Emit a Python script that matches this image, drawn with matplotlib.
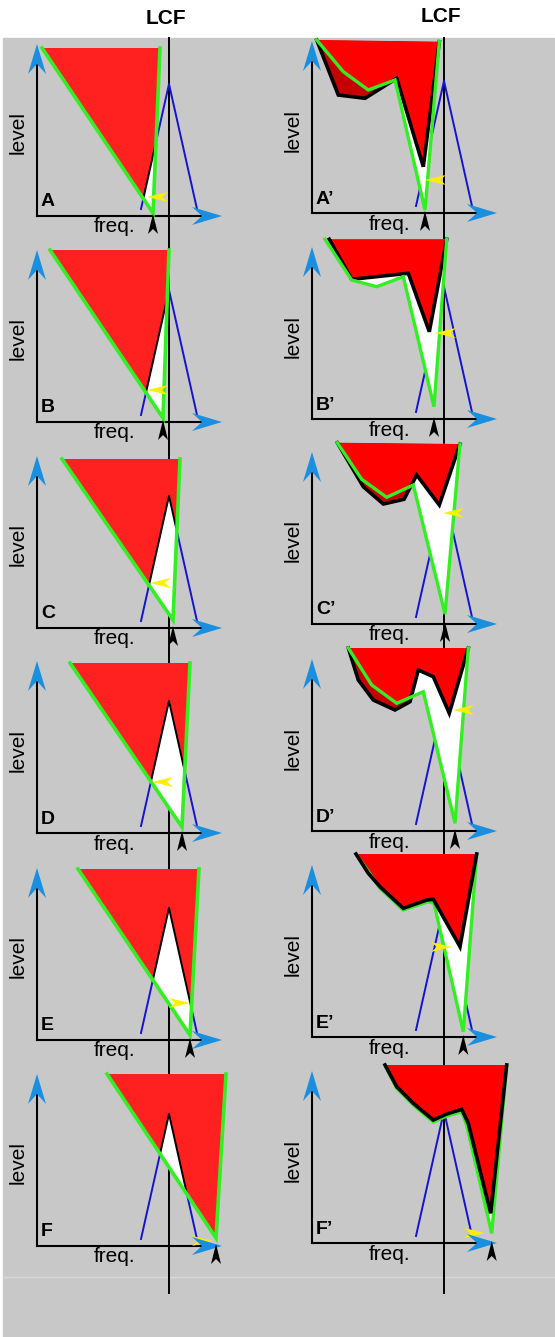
import matplotlib.pyplot as plt
from matplotlib.patches import Polygon, Rectangle

plt.rcParams['font.family'] = ['Liberation Sans', 'DejaVu Sans']

# probe excitation pattern (freq, level), identical in every panel
peak = [(104, 7), (132, 132), (160, 7)]
lcf = 132

# left column: triangular masker (top-left, top-right, lower tip)
left_labels = ['A', 'B', 'C', 'D', 'E', 'F']
masker_A = [(5, 168), (123, 168), (116, 3)]
masker_B = [(13, 172), (132, 172), (126, 4)]
masker_C = [(25, 169), (143, 169), (136, 8)]
masker_D = [(33, 170), (153, 170), (145, 6)]
masker_E = [(41, 171), (162, 171), (153, 5)]
masker_F = [(70, 172), (189, 172), (179, 8)]
left_maskers = [masker_A, masker_B, masker_C, masker_D, masker_E, masker_F]
# yellow pointer: freq, level, direction (-1 left, +1 right)
left_yellow = [(110, 19, -1), (110, 32, -1), (113, 45, -1),
               (115, 51, -1), (153, 37, 1), (176, 5, 1)]

# right column: masker edge (black) and green contour
right_labels = ['A\u2019', 'B\u2019', 'C\u2019', 'D\u2019', 'E\u2019', 'F\u2019']
black_A2 = [(4.7, 173), (26.3, 118), (53, 114.7), (84.7, 134.7), (111.3, 46.3), (127.3, 171.3)]
green_A2 = [(4.7, 173), (31.3, 141.3), (56.3, 123), (83, 133), (113, 3), (127.3, 171.3)]
black_B2 = [(17.3, 179.7), (39.7, 139.7), (96.3, 145.7), (117.3, 87.3), (134.7, 179.7)]
green_B2 = [(13, 179.7), (39.7, 139), (64.7, 132.3), (91.3, 142.3), (122, 12.3), (134.7, 179.7)]
black_C2 = [(25.3, 181.3), (51.3, 137.3), (71.3, 120), (92, 124.7), (104.7, 149),
            (127.3, 119), (148, 180)]
green_C2 = [(25.3, 181.3), (49.7, 144.7), (74.7, 126.7), (101.3, 139), (133, 10), (148, 180)]
black_D2 = [(36.3, 183), (46.3, 151), (61.3, 131), (83, 121), (98, 129.3), (106.3, 161),
            (121.3, 154.3), (137.3, 117.7), (156.3, 183)]
green_D2 = [(36.3, 183), (59.7, 146), (84.7, 127.7), (111.3, 139.3), (143, 7.7), (156.3, 183)]
black_E2 = [(44, 183), (56.3, 163.7), (68, 150.3), (91.3, 128.7), (114.7, 137),
            (121.3, 137.7), (148, 90.3), (164.7, 183)]
green_E2 = [(44, 183), (68, 148.7), (91.3, 127), (116.3, 135.3), (122, 133.7),
            (151.3, 5.3), (164.7, 183)]
black_F2 = [(73, 178), (84.7, 156.3), (101.3, 139.7), (121.3, 123), (134.7, 129),
            (149.7, 133.7), (156.3, 119.7), (178.7, 29.7), (194.7, 178)]
green_F2 = [(73, 178), (84.7, 154.7), (101.3, 138), (121.3, 121), (134.7, 127),
            (149.7, 131.3), (154.7, 118), (179.7, 9.7), (194.7, 178)]
right_black = [black_A2, black_B2, black_C2, black_D2, black_E2, black_F2]
right_green = [green_A2, green_B2, green_C2, green_D2, green_E2, green_F2]
right_yellow = [(113, 33, -1), (123, 86, -1), (131, 111, -1),
                (141, 121, -1), (140, 90, 1), (173, 10, 1)]

# panel origins in pixels
left_x = 37
right_x = 312
left_y = [216, 422, 628, 833, 1040, 1246]
right_y = [213, 419, 624, 831, 1037, 1243]

GRAY = '#c8c8c8'
RED_L = '#ff2020'
RED_R = '#ff0000'
DARK_RED = '#c40000'
GREEN = '#33ee22'
BLUE = '#1414cc'
AXBLUE = '#1a8fe0'
YELLOW = '#ffee00'

fig = plt.figure(figsize=(5.55, 13.37), dpi=100)
ax = fig.add_axes([0, 0, 1, 1])
ax.set_xlim(0, 555)
ax.set_ylim(1337, 0)
ax.axis('off')

ax.add_patch(Rectangle((3, 38), 552, 1299, color=GRAY, zorder=0))
ax.plot([3, 555], [1277, 1277], color='#d8d8d8', lw=1, zorder=0.5)


def px(pts, ox, oy):
    return [(ox + f, oy - l) for f, l in pts]


def dart(tip, d, length, half, notch):
    tx, ty = tip
    dx, dy = d
    bx, by = tx - dx * length, ty - dy * length
    nx, ny = tx - dx * (length - notch), ty - dy * (length - notch)
    return [(tx, ty), (bx - dy * half, by + dx * half), (nx, ny),
            (bx + dy * half, by - dx * half)]


def frame(ox, oy, label):
    ax.plot([ox, ox], [oy, oy - 152], color='black', lw=1.5, zorder=2)
    ax.plot([ox, ox + 165], [oy, oy], color='black', lw=1.5, zorder=2)
    ax.add_patch(Polygon(dart((ox, oy - 172), (0, -1), 30, 9, 10),
                         color=AXBLUE, lw=0, zorder=8))
    ax.add_patch(Polygon(dart((ox + 185, oy), (1, 0), 30, 9, 10),
                         color=AXBLUE, lw=0, zorder=8))
    ax.text(ox - 19, oy - 83, 'level', rotation=90, fontsize=15,
            ha='center', va='center')
    ax.text(ox + 78, oy + 11, 'freq.', fontsize=15, ha='center', va='center')
    ax.text(ox + 4, oy - 14, label, fontsize=14, fontweight='heavy',
            ha='left', va='center')
    # probe excitation pattern
    ax.plot(*zip(*px(peak, ox, oy)), color=BLUE, lw=1.4, zorder=1.5)


def pointers(ox, oy, yellow, f_low):
    f, l, s = yellow
    ax.add_patch(Polygon(dart((ox + f, oy - l), (s, 0), 21, 5, 6),
                         color=YELLOW, lw=0, zorder=7))
    ax.add_patch(Polygon(dart((ox + f_low, oy - 2), (0, -1), 20, 5, 5),
                         color='black', lw=0, zorder=9))


# LCF lines
for ox in (left_x, right_x):
    ax.plot([ox + lcf, ox + lcf], [38, 1293], color='black', lw=1.4, zorder=1)
ax.text(left_x + lcf - 3, 19, 'LCF', fontsize=15, fontweight='heavy',
        ha='center', va='center')
ax.text(right_x + lcf - 3, 16, 'LCF', fontsize=15, fontweight='heavy',
        ha='center', va='center')

# left column
for lab, oy, m, y in zip(left_labels, left_y, left_maskers, left_yellow):
    ox = left_x
    frame(ox, oy, lab)
    mp = Polygon(px(m, ox, oy), closed=True, color=RED_L, lw=0, zorder=3)
    ax.add_patch(mp)
    wp = Polygon(px(peak, ox, oy), closed=True, color='white', lw=0, zorder=4)
    ax.add_patch(wp)
    wp.set_clip_path(mp)
    ln, = ax.plot(*zip(*px(peak, ox, oy)), color='black', lw=1.4, zorder=4.5)
    ln.set_clip_path(mp)
    edge = [m[0], m[2], m[1]]
    ax.plot(*zip(*px(edge, ox, oy)), color=GREEN, lw=2.6, zorder=6,
            solid_joinstyle='miter')
    pointers(ox, oy, y, m[2][0])

# right column; in the last two rows the black edge sits over the green one
for i, (lab, oy, b, g, y) in enumerate(zip(right_labels, right_y, right_black,
                                           right_green, right_yellow)):
    ox = right_x
    frame(ox, oy, lab)
    gp = Polygon(px(g, ox, oy), closed=True, color='white', lw=0, zorder=3)
    ax.add_patch(gp)
    ax.add_patch(Polygon(px(b, ox, oy), closed=True, color=DARK_RED, lw=0, zorder=3.2))
    rp = Polygon(px(b, ox, oy), closed=True, color=RED_R, lw=0, zorder=3.4)
    ax.add_patch(rp)
    rp.set_clip_path(gp)
    z_black = 6.5 if i >= 4 else 5
    ax.plot(*zip(*px(b, ox, oy)), color='black', lw=2.6, zorder=z_black,
            solid_joinstyle='miter')
    ax.plot(*zip(*px(g, ox, oy)), color=GREEN, lw=2.4, zorder=6,
            solid_joinstyle='miter')
    f_low = min(g, key=lambda p: p[1])[0]
    pointers(ox, oy, y, f_low)

fig.savefig('out.png', dpi=100)
